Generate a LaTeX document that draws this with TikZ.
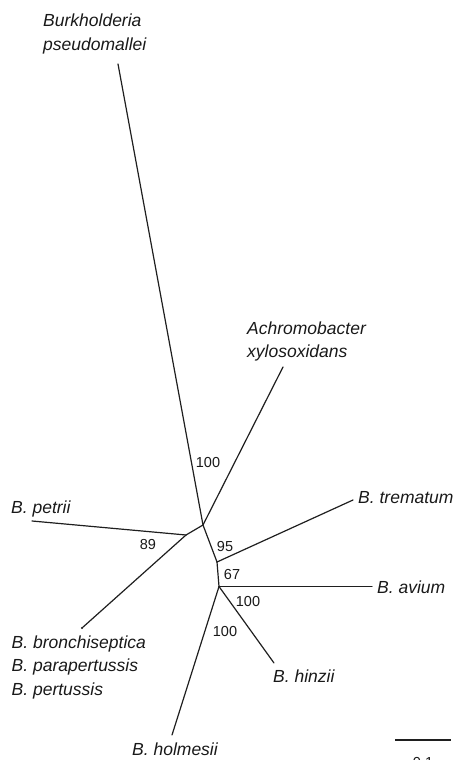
\documentclass[tikz,border=0pt]{standalone}
\usepackage{fontspec}
\setmainfont{Liberation Sans}
\begin{document}
\begin{tikzpicture}[x=1pt,y=-1pt,
  branch/.style={line width=1.2pt, draw=black!88, line cap=round},
  taxon/.style={font=\fontsize{17.5}{23.5}\selectfont\itshape, anchor=base west,
                align=left, inner sep=0pt, text=black!90},
  support/.style={font=\fontsize{14.5}{16}\selectfont, inner sep=0pt, text=black!90}]
\useasboundingbox (0,0) rectangle (460,760);

% internal nodes of the unrooted tree
\coordinate (nA) at (203,525);
\coordinate (nB) at (186,535);
\coordinate (nC) at (217,562);
\coordinate (nD) at (219,586.5);

% branch tips
\coordinate (tPm) at (118,64);
\coordinate (tAx) at (283,367);
\coordinate (tPe) at (32,521);
\coordinate (tBr) at (82,628);
\coordinate (tTr) at (353,500);
\coordinate (tAv) at (372,586.5);
\coordinate (tHi) at (274,663);
\coordinate (tHo) at (172,735);

% branches
\draw[branch] (tPm) -- (nA);
\draw[branch] (tAx) -- (nA);
\draw[branch] (nA) -- (nB);
\draw[branch] (nB) -- (tPe);
\draw[branch] (nB) -- (tBr);
\draw[branch] (nA) -- (nC);
\draw[branch] (nC) -- (tTr);
\draw[branch] (nC) -- (nD);
\draw[branch] (nD) -- (tAv);
\draw[branch] (nD) -- (tHi);
\draw[branch] (nD) -- (tHo);
\fill[black!88] (tBr) circle (1.2);

% taxon names (multi-line names are anchored on their last baseline)
\node[taxon] (lPm) at (43,50.5) {Burkholderia\\pseudomallei};
\node[taxon] (lAx) at (247,357.5) {Achromobacter\\xylosoxidans};
\node[taxon] (lTr) at (358,503) {B. trematum};
\node[taxon] (lAv) at (377,593) {B. avium};
\node[taxon] (lPe) at (11,513) {B. petrii};
\node[taxon] (lBr) at (11.5,695) {B. bronchiseptica\\B. parapertussis\\B. pertussis};
\node[taxon] (lHi) at (273,682) {B. hinzii};
\node[taxon] (lHo) at (132,755) {B. holmesii};

% bootstrap support values
\node[support] (s1) at (208,463) {100};
\node[support] (s2) at (148,545) {89};
\node[support] (s3) at (225,547) {95};
\node[support] (s4) at (232,575) {67};
\node[support] (s5) at (248,602) {100};
\node[support] (s6) at (225,632) {100};

% scale bar
\coordinate (sbL) at (395,740);
\coordinate (sbR) at (451,740);
\draw[line width=1.3pt, draw=black!88] (sbL) -- (sbR);
\node[support, anchor=base] (sbT) at (423,767) {0.1};
\end{tikzpicture}
\end{document}
